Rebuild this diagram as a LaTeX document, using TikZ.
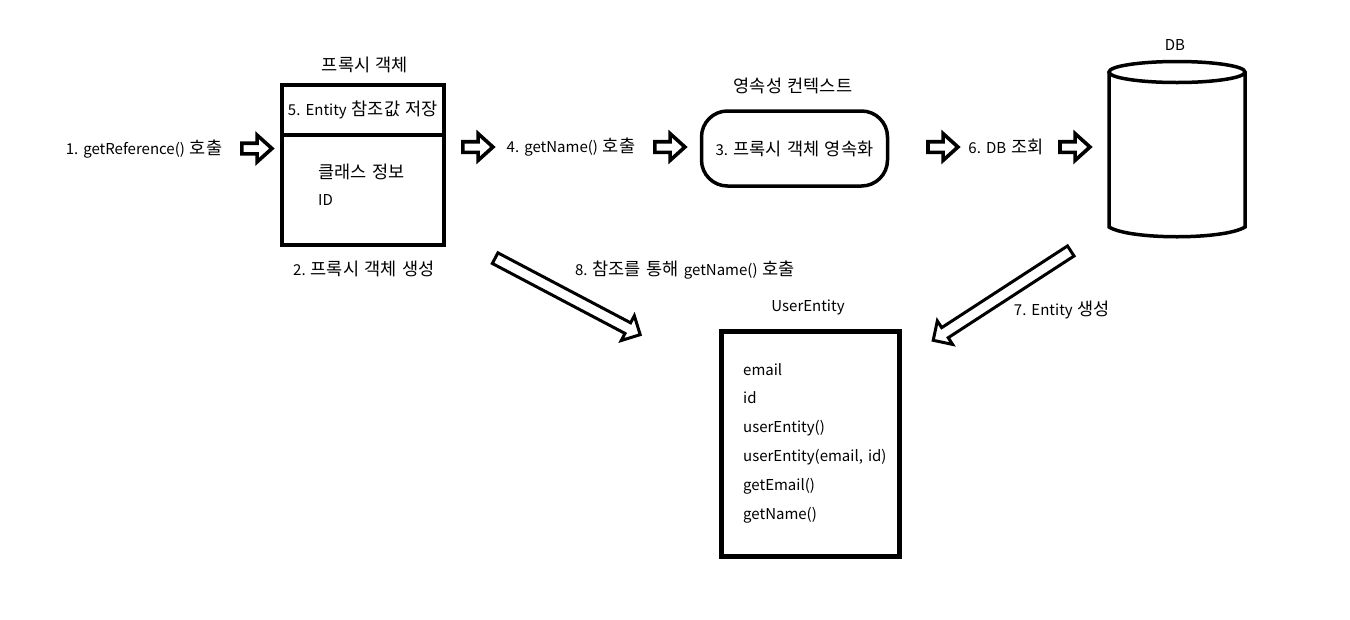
\documentclass[tikz,border=0pt]{standalone}
\usepackage{fontspec}
\setmainfont{Noto Sans CJK KR}[WordSpace=1.5]
\newfontfamily\krfont{Noto Sans CJK KR}[Scale=1.17,WordSpace=1.4]
\newcommand\hg[1]{{\krfont #1}}
\frenchspacing
\usetikzlibrary{shapes.arrows}
\begin{document}
\begin{tikzpicture}[x=1pt,y=-1pt,
  every node/.style={font=\fontsize{15}{18}\selectfont\frenchspacing, inner sep=0pt},
  lbl/.style={anchor=center},
  item/.style={anchor=west},
  boxline/.style={line width=4pt},
  blk/.style={single arrow, draw, line width=3.6pt, minimum height=30pt, minimum width=23pt,
    inner xsep=0pt, inner ysep=3.5pt,
    single arrow head extend=8pt, single arrow tip angle=84, fill=white},
  longblk/.style={single arrow, draw, line width=3pt, minimum height=164pt, minimum width=25pt,
    inner xsep=0pt, inner ysep=4.5pt,
    single arrow head extend=8pt, single arrow tip angle=90, fill=white}
]
\useasboundingbox (0,0) rectangle (1350,619);
\fill[white] (0,0) rectangle (1350,619);

% proxy object
\draw[boxline] (282,85) rectangle (444,245);
\coordinate (divL) at (282,135);
\coordinate (divR) at (444,135);
\draw[boxline] (divL) -- (divR);
\node[lbl] (ptitle) at (365,65) {\hg{프록시 객체}};
\node[lbl] (p5) at (363,110) {5. Entity \hg{참조값 저장}};
\node[item] (pcls) at (318,172) {\hg{클래스 정보}};
\node[item] (pid) at (318,200) {ID};
\node[lbl] (p2) at (364,269) {2. \hg{프록시 객체 생성}};

% step 1
\node[lbl] (s1) at (144,149) {1. getReference() \hg{호출}};
\node[blk] (a1) at (254,148.5) {};

% step 4
\node[blk] (a2) at (475,147) {};
\node[lbl] (s4) at (571,147) {4. getName() \hg{호출}};
\node[blk] (a3) at (667,147) {};

% persistence context
\node[lbl] (pctitle) at (793,86) {\hg{영속성 컨텍스트}};
\node[draw, line width=3.5pt, rounded corners=26pt, minimum width=186pt, minimum height=75pt] (pc) at (794.5,148.5) {3. \hg{프록시 객체 영속화}};

% step 6
\node[blk] (a4) at (940,147) {};
\node[lbl] (s6) at (1006,147) {6. DB \hg{조회}};
\node[blk] (a5) at (1072,147) {};

% DB
\node[lbl] (dbtitle) at (1175,45) {DB};
\coordinate (db) at (1177,72);
\draw[line width=3.5pt] (1109,72) -- (1109,227) .. controls (1130,240) and (1224,240) .. (1245,227) -- (1245,72);
\draw[line width=3.5pt] (db) ellipse (68pt and 10.5pt);

% step 8
\node[longblk, rotate=-27.8] (a8) at (565,295) {};
\node[lbl] (s8) at (685,270) {8. \hg{참조를 통해} getName() \hg{호출}};

% step 7
\node[longblk, rotate=213] (a7) at (1004.5,294) {};
\node[lbl] (s7) at (1062,310) {7. Entity \hg{생성}};

% UserEntity
\node[lbl] (uetitle) at (808,307) {UserEntity};
\draw[line width=5pt] (721,331) rectangle (899,556);
\node[item] (u1) at (743,370) {email};
\node[item] (u2) at (743,398) {id};
\node[item] (u3) at (743,428) {userEntity()};
\node[item] (u4) at (743,457) {userEntity(email, id)};
\node[item] (u5) at (743,486) {getEmail()};
\node[item] (u6) at (743,515) {getName()};
\end{tikzpicture}
\end{document}
